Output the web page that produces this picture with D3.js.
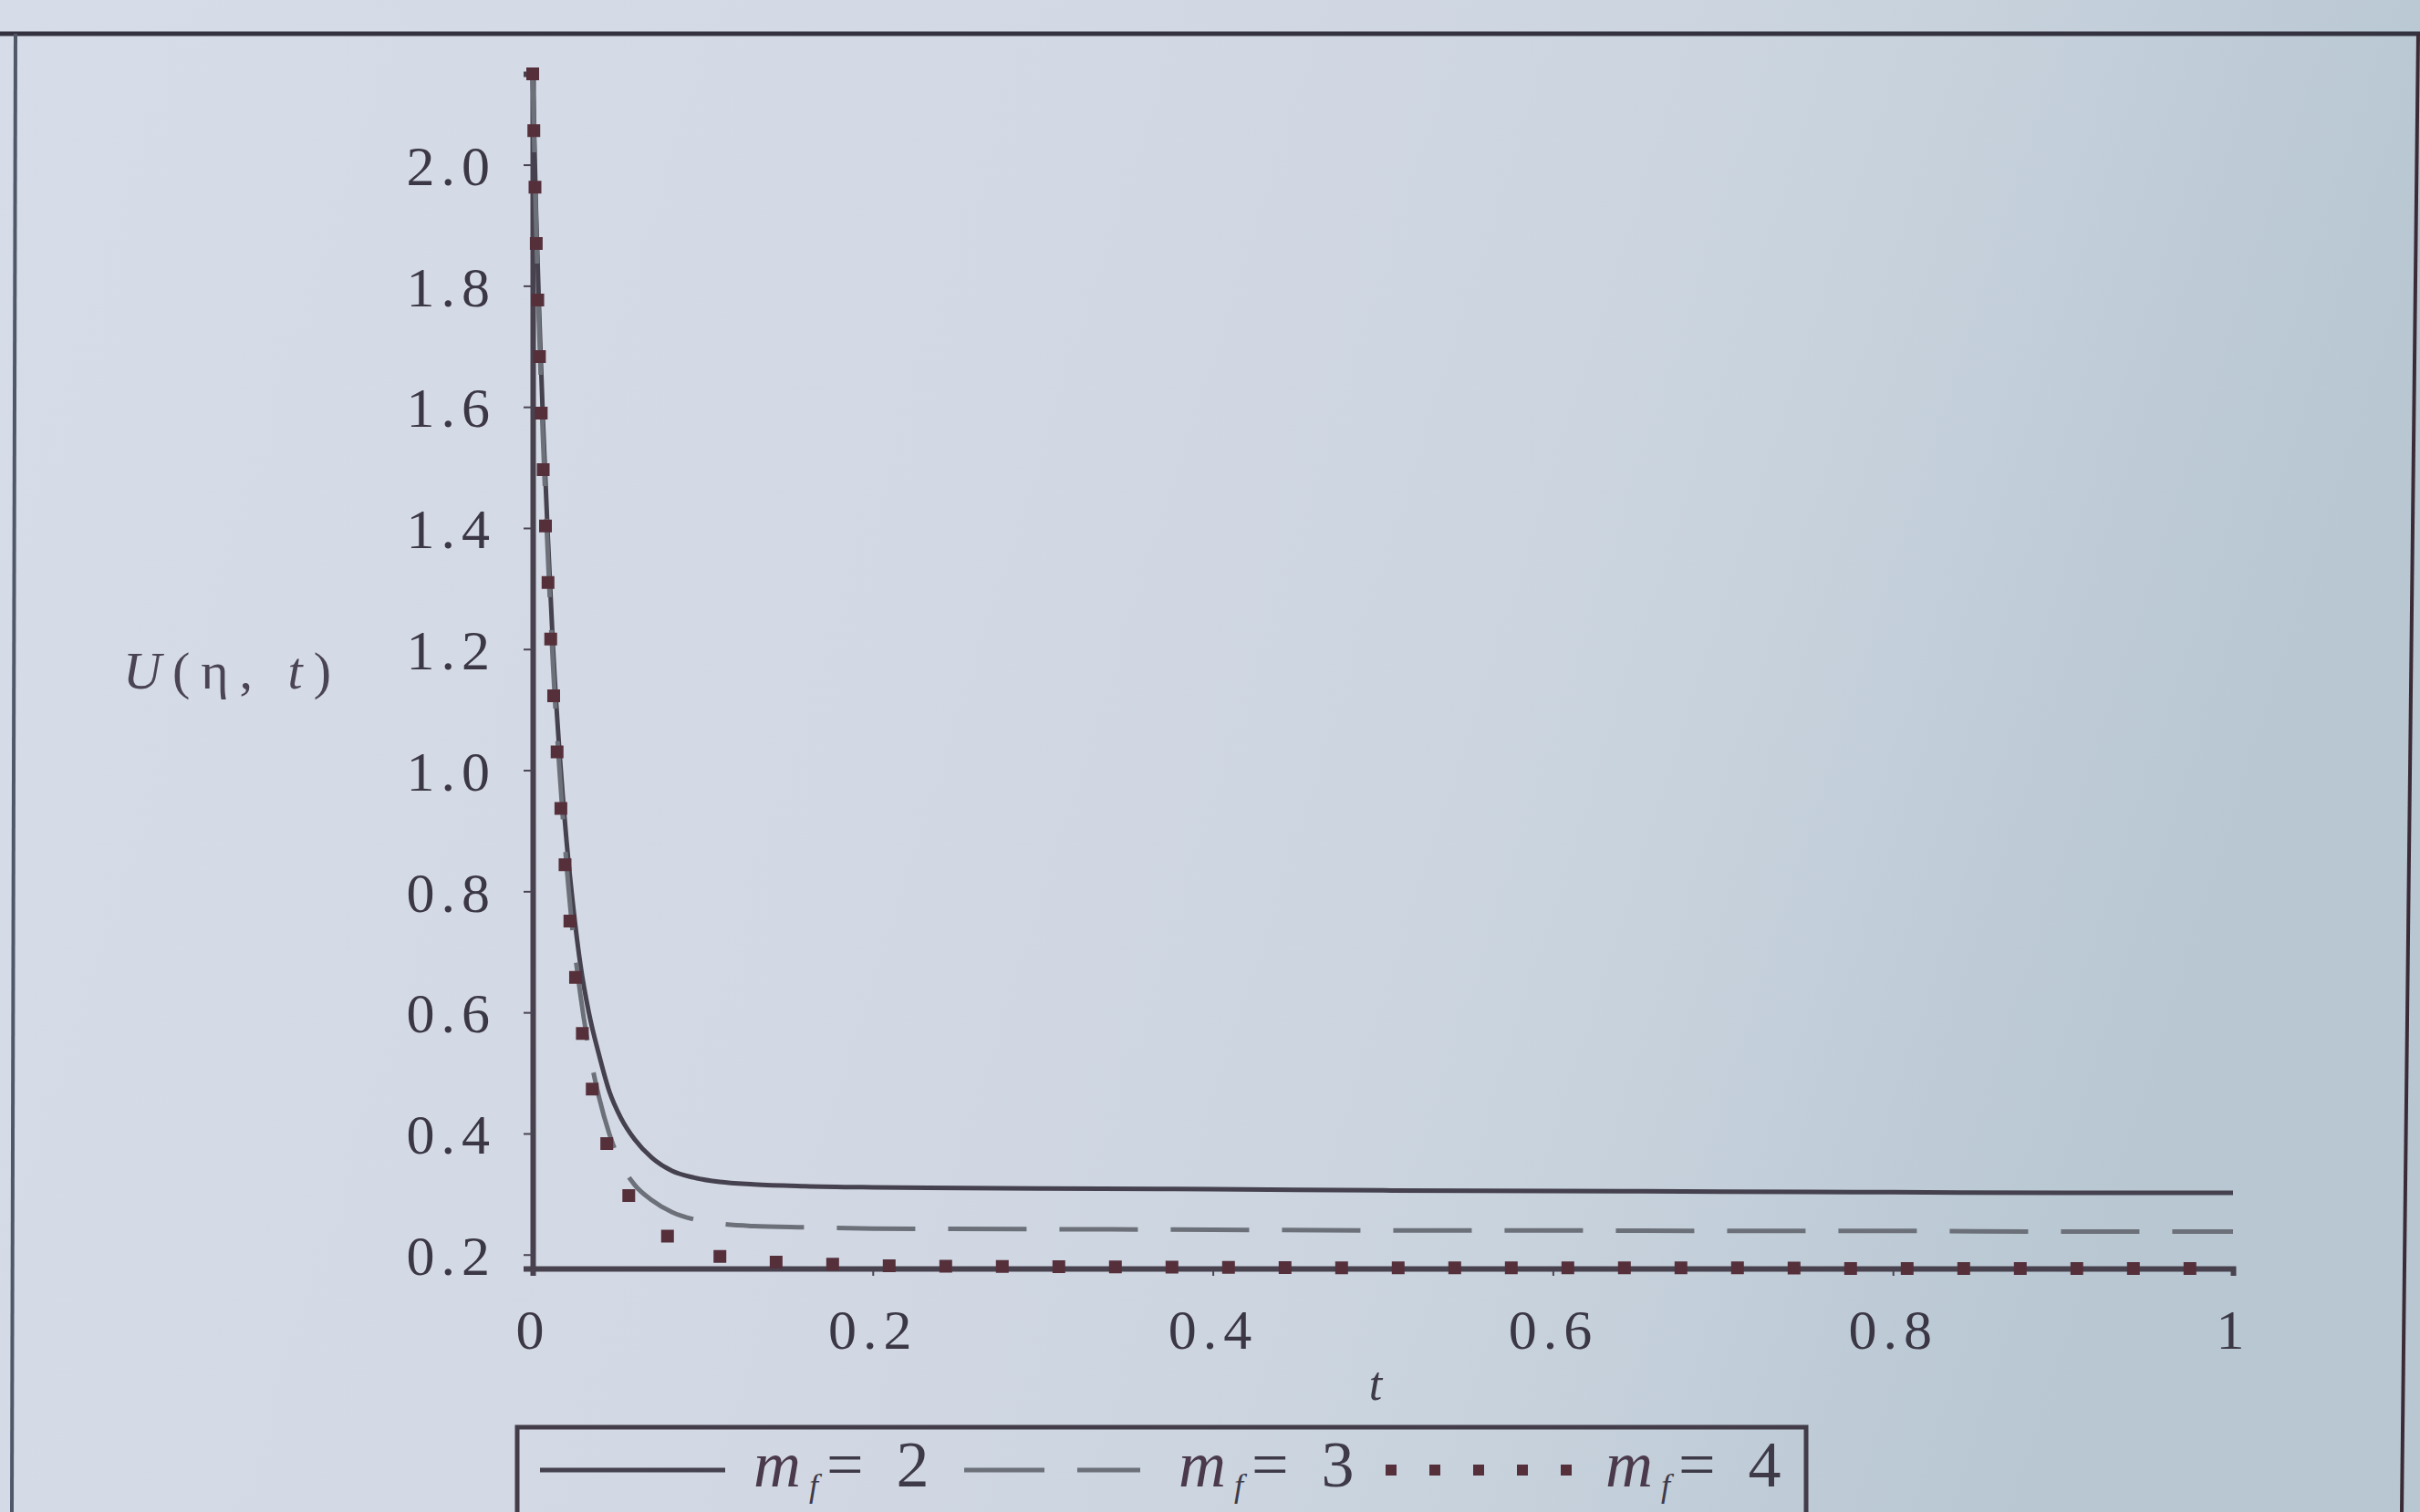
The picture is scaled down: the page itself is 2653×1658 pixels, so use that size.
<!DOCTYPE html>
<html>
<head>
<meta charset="utf-8">
<script src="https://cdn.jsdelivr.net/npm/d3@7"></script>
<style>
  html, body { margin: 0; padding: 0; background: #d3d9e4; }
  svg { display: block; }
</style>
</head>
<body>
<svg id="chart" width="2653" height="1658"></svg>
<script>
// Time samples shared by all three profiles
const tValues = [0, 0.002, 0.004, 0.006, 0.009, 0.012, 0.016, 0.020, 0.024, 0.028,
                 0.033, 0.039, 0.045, 0.052, 0.060, 0.070, 0.082, 0.095, 0.11, 0.13,
                 0.16, 0.2, 0.3, 0.4, 0.5, 0.6, 0.7, 0.8, 0.9, 1.0];

// Velocity U(eta, t) for each value of m_f
const uM2 = [2.15, 1.92, 1.74, 1.58, 1.38, 1.20, 1.02, 0.88, 0.77, 0.68,
             0.60, 0.53, 0.47, 0.425, 0.39, 0.36, 0.338, 0.327, 0.320, 0.316,
             0.313, 0.311, 0.309, 0.308, 0.306, 0.305, 0.304, 0.303, 0.302, 0.302];
const uM3 = [2.15, 1.90, 1.71, 1.55, 1.35, 1.17, 0.99, 0.84, 0.72, 0.63,
             0.54, 0.46, 0.40, 0.35, 0.315, 0.29, 0.27, 0.258, 0.251, 0.247,
             0.245, 0.243, 0.242, 0.241, 0.240, 0.240, 0.239, 0.239, 0.238, 0.238];
const uM4 = [2.15, 1.88, 1.68, 1.51, 1.31, 1.14, 0.96, 0.81, 0.69, 0.59,
             0.50, 0.43, 0.37, 0.32, 0.283, 0.25, 0.226, 0.209, 0.197, 0.190,
             0.186, 0.182, 0.180, 0.179, 0.178, 0.178, 0.178, 0.177, 0.177, 0.177];

const seriesNames = ["2", "3", "4"];
const yTicks = [0.2, 0.4, 0.6, 0.8, 1.0, 1.2, 1.4, 1.6, 1.8, 2.0];
const xTicks = [0, 0.2, 0.4, 0.6, 0.8, 1];

const svg = d3.select("#chart");
const W = 2653, H = 1658;
const serif = "'Liberation Serif', 'DejaVu Serif', serif";

// Page background: light sheet, cooler towards the right
const defs = svg.append("defs");
const grad = defs.append("linearGradient").attr("id", "bg")
  .attr("x1", 0).attr("y1", 0).attr("x2", 1).attr("y2", 0.2);
[[0, "#d6dce8"], [0.45, "#d3d9e4"], [0.75, "#c9d3de"], [1, "#b8c7d2"]]
  .forEach(([o, c]) => grad.append("stop").attr("offset", o).attr("stop-color", c));
svg.append("rect").attr("width", W).attr("height", H).attr("fill", "url(#bg)");

// Outer frame of the worksheet region
svg.append("line").attr("x1", 0).attr("x2", W).attr("y1", 37).attr("y2", 37)
  .attr("stroke", "#35323f").attr("stroke-width", 5);
svg.append("line").attr("x1", 17).attr("x2", 13).attr("y1", 37).attr("y2", H)
  .attr("stroke", "#4f5869").attr("stroke-width", 4);
svg.append("line").attr("x1", 2651).attr("x2", 2633).attr("y1", 37).attr("y2", H)
  .attr("stroke", "#3b2b36").attr("stroke-width", 4);

// Scales
const x = d3.scaleLinear().domain([0, 1]).range([584, 2448]);
const y = d3.scaleLinear().domain([0.177, 2.15]).range([1391, 81]);

// Axes
const yAxis = d3.axisLeft(y).tickValues(yTicks).tickFormat(d3.format(".1f"))
  .tickSize(10).tickPadding(30);
const xAxis = d3.axisBottom(x).tickValues(xTicks)
  .tickFormat(d => (d === 0 || d === 1) ? d3.format("d")(d) : d3.format(".1f")(d))
  .tickSize(8).tickPadding(30);

const gy = svg.append("g").attr("transform", `translate(${x(0)},0)`).call(yAxis);
const gx = svg.append("g").attr("transform", `translate(0,${y(0.177)})`).call(xAxis);

[gx, gy].forEach(g => {
  g.select(".domain").attr("stroke", "#48424f").attr("stroke-width", 6);
  g.selectAll(".tick line").attr("stroke", "#4a4452").attr("stroke-width", 2);
  g.selectAll(".tick text")
    .attr("fill", "#3b3745")
    .attr("font-family", serif)
    .attr("font-size", 62)
    .attr("letter-spacing", 7);
});
gy.selectAll(".tick text").attr("dy", "0.35em");
gx.selectAll(".tick text").attr("dy", "0.8em");

// Axis titles
const yTitle = svg.append("text")
  .attr("x", 255).attr("y", 755)
  .attr("text-anchor", "middle")
  .attr("font-family", serif).attr("font-size", 58)
  .attr("letter-spacing", 12)
  .attr("fill", "#4a4454");
yTitle.append("tspan").attr("font-style", "italic").text("U");
yTitle.append("tspan").text("(η, ");
yTitle.append("tspan").attr("font-style", "italic").text("t");
yTitle.append("tspan").text(")");

svg.append("text")
  .attr("x", 1508).attr("y", 1535)
  .attr("text-anchor", "middle")
  .attr("font-family", serif).attr("font-size", 52)
  .attr("font-style", "italic")
  .attr("fill", "#3e3a48")
  .text("t");

// Curves
const line = d3.line()
  .x(d => x(d[0]))
  .y(d => y(d[1]))
  .curve(d3.curveMonotoneX);

const series = [
  { name: seriesNames[0], values: uM2, stroke: "#45414e", width: 5, dash: null, cap: "butt", legendDash: null },
  { name: seriesNames[1], values: uM3, stroke: "#6c7079", width: 5, dash: "86 36", cap: "butt", legendDash: "88 36" },
  { name: seriesNames[2], values: uM4, stroke: "#55303b", width: 14, dash: "0 62", cap: "square", legendDash: "0 48" }
];

series.forEach(s => {
  const pts = tValues.map((t, i) => [t, s.values[i]]);
  svg.append("path")
    .datum(pts)
    .attr("d", line)
    .attr("fill", "none")
    .attr("stroke", s.stroke)
    .attr("stroke-width", s.width)
    .attr("stroke-linecap", s.cap)
    .attr("stroke-linejoin", "round")
    .attr("stroke-dasharray", s.dash);
});

// Legend
const lg = svg.append("g");
lg.append("rect")
  .attr("x", 567).attr("y", 1565).attr("width", 1413).attr("height", 200)
  .attr("fill", "none").attr("stroke", "#433d49").attr("stroke-width", 5);

const legendItems = [
  { x0: 592, x1: 795, tx: 826 },
  { x0: 1057, x1: 1250, tx: 1292 },
  { x0: 1525, x1: 1725, tx: 1760 }
];

series.forEach((s, i) => {
  const it = legendItems[i];
  lg.append("line")
    .attr("x1", it.x0).attr("x2", it.x1).attr("y1", 1612).attr("y2", 1612)
    .attr("stroke", s.stroke)
    .attr("stroke-width", i === 2 ? 12 : s.width)
    .attr("stroke-linecap", s.cap)
    .attr("stroke-dasharray", s.legendDash);
  const t = lg.append("text")
    .attr("x", it.tx).attr("y", 1630)
    .attr("font-family", serif).attr("font-size", 72)
    .attr("letter-spacing", 9)
    .attr("fill", "#3e3a48");
  t.append("tspan").attr("font-style", "italic").attr("fill", "#4a3a4c").text("m");
  t.append("tspan").attr("font-style", "italic").attr("font-size", 36)
    .attr("dy", 11).text("f");
  t.append("tspan").attr("dy", -11).text("= " + s.name);
});
</script>
</body>
</html>
